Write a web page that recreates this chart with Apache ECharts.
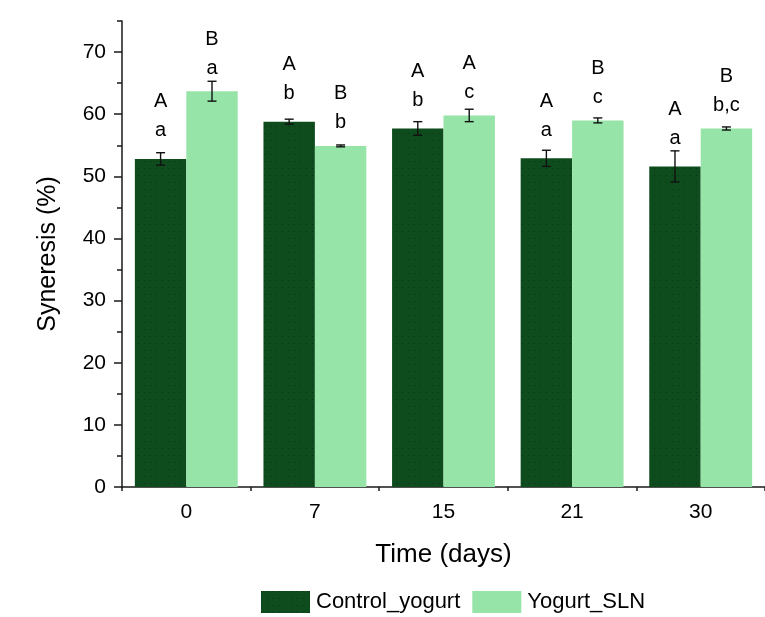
<!DOCTYPE html>
<html>
<head>
<meta charset="utf-8">
<script src="https://cdn.jsdelivr.net/npm/echarts@6/dist/echarts.min.js"></script>
<style>
  html, body { margin: 0; padding: 0; background: #fff; }
  #chart { width: 765px; height: 617px; }
</style>
</head>
<body>
<div id="chart"></div>
<script>
// Storage time and syneresis of the two yogurt formulations
const days = ['0', '7', '15', '21', '30'];
const controlMean = [52.8, 58.8, 57.7, 52.9, 51.6];
const controlSd = [1.0, 0.4, 1.1, 1.3, 2.5];
const slnMean = [63.7, 54.9, 59.8, 59.0, 57.7];
const slnSd = [1.6, 0.15, 1.0, 0.4, 0.25];
// Significance letters: upper = between formulations, lower = over time
const controlUpper = ['A', 'A', 'A', 'A', 'A'];
const controlLower = ['a', 'b', 'b', 'a', 'a'];
const slnUpper = ['B', 'B', 'A', 'B', 'B'];
const slnLower = ['a', 'b', 'c', 'c', 'b,c'];
const yTicks = [0, 10, 20, 30, 40, 50, 60, 70];
const yMinorTicks = [5, 15, 25, 35, 45, 55, 65, 75];

const DARK = '#0f4c1d';
const LIGHT = '#97e4a8';
const FONT = 'Liberation Sans, Arial, sans-serif';

// sparse stipple on the dark bars
const dots = {
  symbol: 'rect',
  symbolSize: 1,
  color: 'rgba(0,0,0,0.3)',
  dashArrayX: [1, 5],
  dashArrayY: [1, 6],
  rotation: 0
};

function errorData(means, sds, side) {
  return means.map((m, i) => [i, m, sds[i], side]);
}

// error bar plus the two significance letters above each bar
function makeRenderer(upper, lower, letterLift) {
  return function (params, api) {
    const idx = api.value(0);
    const mean = api.value(1);
    const sd = api.value(2);
    const side = api.value(3);
    const catW = api.size([1, 0])[0];
    const off = side * catW * 0.2;
    const top = api.coord([idx, mean + sd]);
    const bot = api.coord([idx, mean - sd]);
    const barTop = api.coord([idx, mean]);
    const x = top[0] + off;
    const cap = 4.5;
    const style = { stroke: '#111', lineWidth: 1.4 };
    const font = '20px ' + FONT;
    return {
      type: 'group',
      children: [
        { type: 'line', shape: { x1: x, y1: top[1], x2: x, y2: bot[1] }, style },
        { type: 'line', shape: { x1: x - cap, y1: top[1], x2: x + cap, y2: top[1] }, style },
        { type: 'line', shape: { x1: x - cap, y1: bot[1], x2: x + cap, y2: bot[1] }, style },
        { type: 'text', x: x, y: barTop[1] - letterLift, style: {
            text: lower[params.dataIndex], fill: '#000', font,
            align: 'center', verticalAlign: 'middle' } },
        { type: 'text', x: x, y: barTop[1] - letterLift - 29, style: {
            text: upper[params.dataIndex], fill: '#000', font,
            align: 'center', verticalAlign: 'middle' } }
      ]
    };
  };
}

const axisColor = '#1a1a1a';
const chart = echarts.init(document.getElementById('chart'), null, { renderer: 'canvas' });
chart.setOption({
  backgroundColor: '#ffffff',
  animation: false,
  textStyle: { fontFamily: FONT },
  grid: { left: 122, top: 21, width: 650, height: 466, containLabel: false },
  legend: {
    data: ['Control_yogurt', 'Yogurt_SLN'],
    left: 261, top: 591, padding: 0,
    itemWidth: 49, itemHeight: 22, itemGap: 12,
    icon: 'rect',
    textStyle: { fontSize: 22, color: '#000', fontFamily: FONT, padding: [0, 0, 0, 1] }
  },
  xAxis: [
    {
      type: 'category', data: days,
      name: 'Time (days)', nameLocation: 'middle', nameGap: 55,
      nameTextStyle: { fontSize: 26, color: '#000', fontFamily: FONT },
      axisLine: { lineStyle: { color: axisColor, width: 1.5 } },
      axisTick: { alignWithLabel: true, length: 8, lineStyle: { color: axisColor, width: 1.5 } },
      axisLabel: { fontSize: 21, color: '#000', margin: 15, fontFamily: FONT }
    },
    {
      type: 'category', data: days, position: 'bottom',
      axisLine: { show: false },
      axisTick: { show: true, length: 4, lineStyle: { color: axisColor, width: 1.5 } },
      axisLabel: { show: false }
    }
  ],
  yAxis: [
    {
      type: 'value', min: 0, max: 75,
      name: 'Syneresis (%)', nameLocation: 'middle', nameGap: 61,
      nameTextStyle: { fontSize: 25, color: '#000', fontFamily: FONT },
      axisLine: { show: true, lineStyle: { color: axisColor, width: 1.5 } },
      axisTick: { show: true, length: 8, customValues: yTicks, lineStyle: { color: axisColor, width: 1.5 } },
      axisLabel: { fontSize: 21, color: '#000', margin: 16, customValues: yTicks, fontFamily: FONT },
      splitLine: { show: false }
    },
    {
      type: 'value', min: 0, max: 75, position: 'left',
      axisLine: { show: false },
      axisTick: { show: true, length: 5, customValues: yMinorTicks, lineStyle: { color: axisColor, width: 1.5 } },
      axisLabel: { show: false },
      splitLine: { show: false }
    }
  ],
  series: [
    {
      name: 'Control_yogurt', type: 'bar', data: controlMean,
      barGap: '0%', barCategoryGap: '20%',
      itemStyle: { color: DARK, decal: dots }
    },
    {
      name: 'Yogurt_SLN', type: 'bar', data: slnMean,
      barGap: '0%', barCategoryGap: '20%',
      itemStyle: { color: LIGHT }
    },
    {
      type: 'custom', name: 'err_control',
      renderItem: makeRenderer(controlUpper, controlLower, 28),
      data: errorData(controlMean, controlSd, -1),
      encode: { x: 0, y: 1 }, z: 10, silent: true
    },
    {
      type: 'custom', name: 'err_sln',
      renderItem: makeRenderer(slnUpper, slnLower, 23),
      data: errorData(slnMean, slnSd, 1),
      encode: { x: 0, y: 1 }, z: 10, silent: true
    }
  ]
});
</script>
</body>
</html>
